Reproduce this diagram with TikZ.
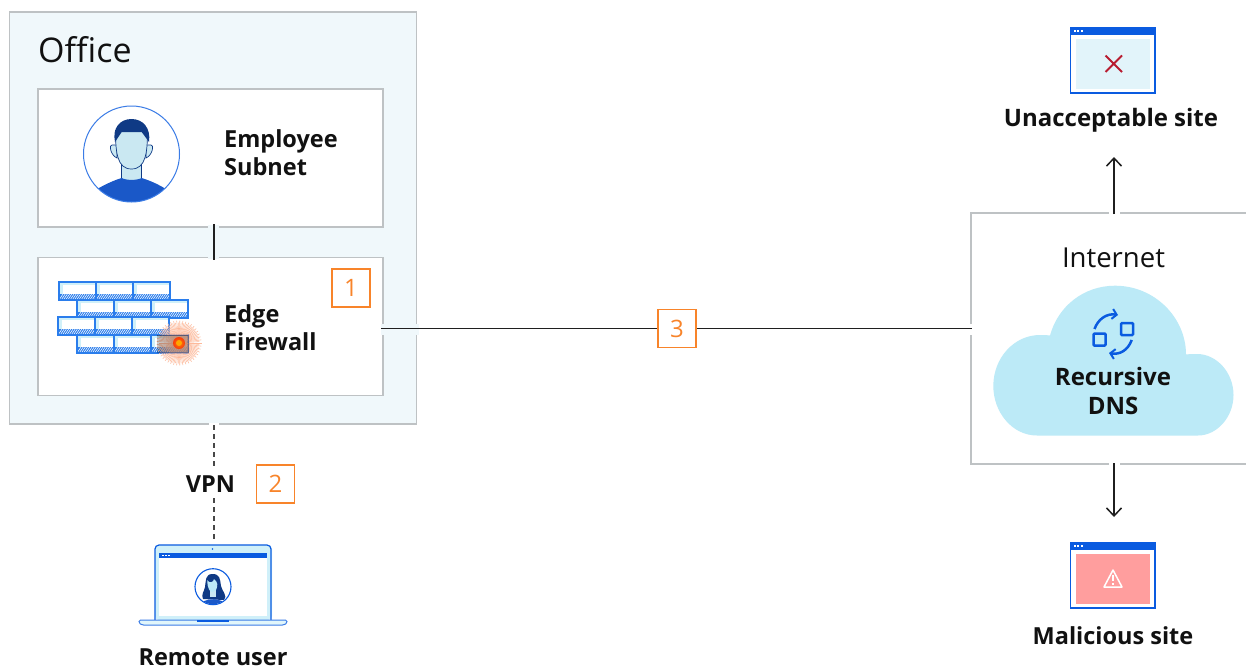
\documentclass[tikz,border=0pt]{standalone}
\usepackage{fontspec}
\setmainfont{Open Sans}
\usetikzlibrary{arrows.meta,shapes.geometric}
\definecolor{gb}{HTML}{BEC2C4}
\definecolor{officebg}{HTML}{F0F8FB}
\definecolor{ora}{HTML}{F8842A}
\definecolor{bl}{HTML}{0A5BE0}
\definecolor{brk}{HTML}{2A7DEC}
\definecolor{mid}{HTML}{1A58C8}
\definecolor{navy}{HTML}{0F3A85}
\definecolor{sky}{HTML}{BCEAF7}
\definecolor{skin}{HTML}{CAE8F2}
\definecolor{pale}{HTML}{E2F4FA}
\definecolor{burst}{HTML}{FDB99A}
\definecolor{rd}{HTML}{B81C30}
\definecolor{txt}{HTML}{111111}
\tikzset{
  x=1pt,y=-1pt,
  box/.style={draw=gb,line width=1.8pt,fill=white,minimum width=#1,inner sep=0pt},
  lab/.style={font=\fontsize{23.5}{28}\selectfont\bfseries,text=txt,align=#1,inner sep=0pt},
  lab/.default=center,
  plainlab/.style={font=\fontsize{23.5}{28}\selectfont\bfseries,text=txt,inner sep=0pt},
  tag/.style={draw=ora,line width=1.5pt,fill=white,text=ora,minimum width=38pt,minimum height=38pt,inner sep=0pt,font=\fontsize{24}{24}\selectfont},
  conn/.style={line width=1.9pt,draw=black!88},
  dashconn/.style={line width=1.9pt,draw=black!72,dash pattern=on 5pt off 4pt},
  arrow/.style={conn,-{Straight Barb[length=8pt,width=15pt,line width=1.5pt]}},
  wire/.style={line width=1.2pt,draw=bl},
  pics/brick/.style={code={
    \fill[sky!70] (0,0) rectangle (37,18);
    \fill[white] (4,3) rectangle (36,12);
    \fill[brk] (0,12) rectangle (37,18);
    \foreach \k in {0,2.2,...,37.5}{\draw[white,line width=.55pt] (\k,18) -- (\k+4,12);}
    \draw[draw=brk,line width=1.4pt] (0,0) rectangle (37,18);
  }},
  pics/sitewin/.style={code={
    \fill[white] (0,0) rectangle (85,66);
    \fill[#1] (6,12) rectangle (80,62);
    \draw[wire] (.6,.6) rectangle (85,66);
    \fill[bl] (0,0) rectangle (85.6,7.5);
    \foreach \k in {3.5,7,10.5}{\fill[white] (\k,2.6) rectangle +(2,2);}
  }},
}
\begin{document}
\begin{tikzpicture}
\useasboundingbox (0,0) rectangle (1246,667);
\fill[white] (0,0) rectangle (1246,667);
% Office
\node[draw=gb,line width=1.8pt,fill=officebg,minimum width=407pt,minimum height=412pt,inner sep=0pt] (office) at (213,218) {};
\node[font=\fontsize{34}{34}\selectfont,text=txt,anchor=base west,inner sep=0pt] (officelab) at (38,62) {Office};
\node[box=345pt,minimum height=138pt] (subnet) at (210.5,158) {};
\node[box=345pt,minimum height=138pt] (firewall) at (210.5,326.5) {};
\node[lab=left,anchor=west] (subnetlab) at (224,153) {Employee\\Subnet};
\node[lab=left,anchor=west] (firelab) at (224,327.5) {Edge\\Firewall};
\node[tag] (n1) at (351,288) {1};
% employee avatar
\begin{scope}
\path[clip] (131.5,154) circle (48pt);
\fill[skin] (121.7,160) rectangle (141.7,181);
\draw[navy,line width=.8pt] (121.7,160) -- (121.7,178) (141.7,160) -- (141.7,178);
\fill[mid] (98,188.5) .. controls (108,183) and (115,180) .. (121.7,178) .. controls (126,180.5) and (137,180.5) .. (141.7,178) .. controls (148,180) and (156,183) .. (165,188.5) -- (170,210) -- (95,210) -- cycle;
\end{scope}
\filldraw[fill=skin,draw=navy,line width=.7pt] (112,145) .. controls (109,144) and (110,155) .. (117,158) -- (117,145) -- cycle;
\filldraw[fill=skin,draw=navy,line width=.7pt] (151,145) .. controls (154,144) and (153,155) .. (146,158) -- (146,145) -- cycle;
\filldraw[fill=skin,draw=navy,line width=.7pt] (115.5,130) .. controls (115.5,152) and (117,169) .. (131.5,169) .. controls (146,169) and (147.5,152) .. (147.5,130);
\fill[navy] (115,142) .. controls (112,128) and (120,119) .. (131.5,119) .. controls (143,119) and (151,128) .. (149,142) -- (141.7,132) -- (121.7,132) -- cycle;
\draw[bl!80,line width=1pt] (131.5,154) circle (48pt);
% bricks
\foreach \r/\x/\y in {0/59/282,1/77/300,2/58/317,3/77/335}{
  \foreach \c in {0,1,2}{
    \pic at ({\x+\c*37},\y) {brick};
  }
}
% burst
\foreach \a in {0,4,...,356}{
  \draw[burst,line width=.55pt] (179,343) -- ({179+(22.5-2*mod(\a,8)/4)*cos(\a)},{343+(22.5-2*mod(\a,8)/4)*sin(\a)});
}
\fill[black,opacity=.22] (157,335) rectangle (188,352);
\draw[navy!80!black,opacity=.5,line width=.9pt] (157,335) -- (188,335) -- (188,352) -- (157,352);
\shade[inner color=orange,outer color=red!60!orange,opacity=.9] (179,343) circle (6pt);
\fill[orange!70!yellow] (179,343) circle (3pt);
% Internet
\path[fill=white] (971,213) rectangle (1246,464);
\draw[gb,line width=1.8pt] (1246,213) -- (971,213) -- (971,464) -- (1246,464);
\coordinate (inttop) at (1114,214);
\coordinate (intbot) at (1114,463);
\node[font=\fontsize{27.5}{27.5}\selectfont,text=txt,anchor=base,inner sep=0pt] (intlab) at (1113.5,267) {Internet};
% cloud
\fill[sky] (1037,435.5) .. controls (1012,435.5) and (993.3,412) .. (993.3,386) .. controls (993.3,358) and (1014,335) .. (1040,335) .. controls (1044,335) and (1047,335) .. (1050,335.5) .. controls (1058,306) and (1084,285.7) .. (1115,285.7) .. controls (1155,285.7) and (1186,318) .. (1186,354.5) .. controls (1190,354) and (1193,354) .. (1197,354) .. controls (1217,354) and (1233.5,373) .. (1233.5,395) .. controls (1233.5,417) and (1217,435.5) .. (1198,435.5) -- cycle;
\node[lab,font=\fontsize{24}{29}\selectfont\bfseries] (dns) at (1113,390.5) {Recursive\\DNS};
% recycle icon
\draw[bl,line width=2.5pt,rounded corners=1pt] (1093.5,333.5) rectangle (1105.5,345.5);
\draw[bl,line width=2.5pt,rounded corners=1pt] (1121,323) rectangle (1133,335);
\draw[bl,line width=2.5pt,-{Straight Barb[length=4.5pt,width=10pt,line width=2pt]}] (1094.5,329) .. controls (1098,319) and (1107,313) .. (1118,315);
\draw[bl,line width=2.5pt,-{Straight Barb[length=4.5pt,width=10pt,line width=2pt]}] (1131.7,340) .. controls (1128,350) and (1120,355) .. (1109,353);
% gaps where connectors cross borders
\fill[officebg] (208,225) rectangle (219,229);
\fill[officebg] (208,256) rectangle (219,259);
\fill[officebg] (381,324) rectangle (385,335);
\fill[officebg] (415,324) rectangle (418.5,335);
\fill[white] (208.5,422.5) rectangle (219,425.5);
\fill[white] (969,324) rectangle (973,335);
\fill[white] (1109,211) rectangle (1120,215);
\fill[white] (1109,462) rectangle (1120,466);
% connectors
\node[tag] (n3) at (677,328.5) {3};
\coordinate (internet) at (972,328.5);
\coordinate (fwout) at (381,328.5);
\draw[conn] (fwout) -- (n3);
\draw[conn] (n3) -- (internet);
\coordinate (subout) at (213.8,224);
\coordinate (fwin) at (213.8,260);
\draw[conn] (subout) -- (fwin);
% sites
\pic at (1070,27) {sitewin=pale};
\draw[rd,line width=2pt] (1105.5,55.5) -- (1122,72) (1122,55.5) -- (1105.5,72);
\node[plainlab,font=\fontsize{24}{28}\selectfont\bfseries] (unacc) at (1111,120) {Unacceptable site};
\pic at (1070,542) {sitewin={red!38!white}};
\draw[white,line width=1.5pt,line join=round] (1113,570) -- (1104,587) -- (1122,587) -- cycle;
\draw[white,line width=1.5pt] (1113,575) -- (1113,581) (1113,583) -- (1113,585);
\node[plainlab] (mal) at (1113,636) {Malicious site};
\coordinate (unaccpt) at (1114,157);
\coordinate (malpt) at (1114,517);
\draw[arrow] (inttop) -- (unaccpt);
\draw[arrow] (intbot) -- (malpt);
% laptop
\fill[sky!70] (155,620) -- (155,552) [rounded corners=4pt] -- (155,545) -- (272,545) -- (272,620) -- cycle;
\draw[bl,line width=1.2pt,rounded corners=4pt] (155,620) -- (155,545) -- (271,545) -- (271,620);
\fill[white] (159,553) rectangle (267,616);
\fill[bl] (159,553) rectangle (267,558);
\foreach \k in {162,165,168}{\fill[white] (\k,554.7) rectangle +(1.6,1.6);}
\fill[bl] (212.5,549) circle (.8pt);
\draw[bl!80,fill=sky!45,line width=1pt,rounded corners=1.5pt] (139,620) -- (287,620) -- (287,623) -- (284,625) -- (142,625) -- (139,623) -- cycle;
\fill[bl] (197,620) rectangle (229,622);
% user in laptop
\draw[bl,line width=1.1pt,fill=white] (213,586.7) circle (18pt);
\begin{scope}
\path[clip] (213,586.7) circle (17.5pt);
\fill[navy] (212.5,574) .. controls (205,574) and (206,581) .. (205,587) .. controls (204,592) and (201,594) .. (203,599) -- (224,600) .. controls (228,596) and (222,591) .. (221,586) .. controls (220,579) and (220,574) .. (212.5,574) -- cycle;
\fill[mid] (200,606) .. controls (201,597) and (225,597) .. (226,606) -- cycle;
\fill[skin] (209.5,589) rectangle (215.5,597);
\fill[sky] (207.3,580) .. controls (209,584) and (214,582) .. (214,579) .. controls (216,581) and (217,582) .. (217.3,584) .. controls (217.3,590) and (215,592) .. (212.5,592) .. controls (210,592) and (207.3,589) .. (207.3,580) -- cycle;
\end{scope}
\coordinate (laptop) at (213.8,542);
\node[plainlab,anchor=base] (rem) at (213,665) {Remote user};
% VPN
\node[plainlab] (vpn) at (210.5,484) {VPN};
\node[tag] (n2) at (275.5,484) {2};
\coordinate (vpnup) at (213.8,468);
\coordinate (vpndown) at (213.8,498);
\coordinate (officeout) at (213.8,425);
\draw[dashconn] (officeout) -- (vpnup);
\draw[dashconn] (vpndown) -- (laptop);
\end{tikzpicture}
\end{document}
